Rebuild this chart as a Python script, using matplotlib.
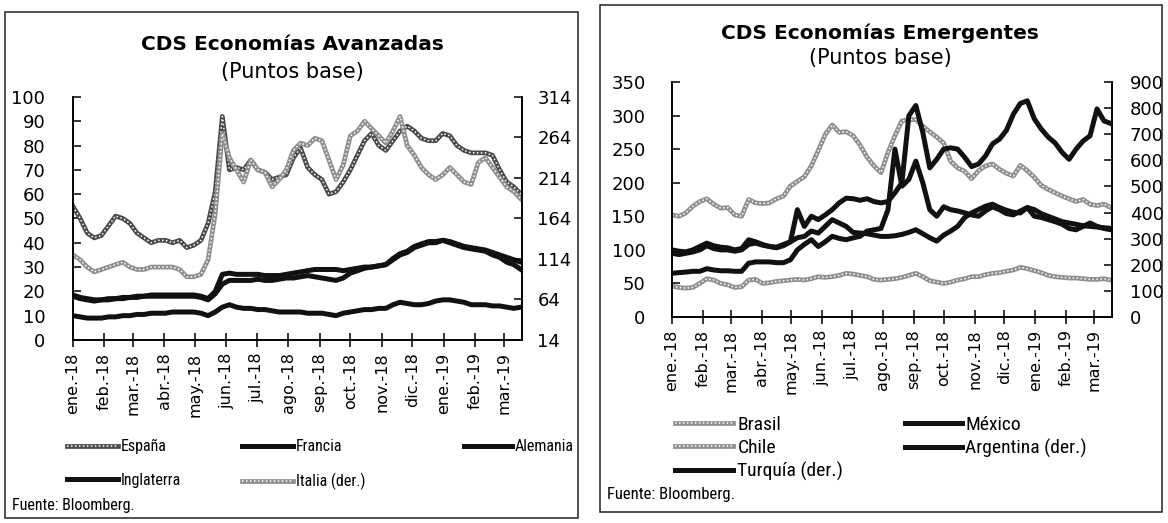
import numpy as np
import pandas as pd
import matplotlib
matplotlib.use("Agg")
import matplotlib.pyplot as plt
from matplotlib.legend_handler import HandlerTuple
from matplotlib.patches import Rectangle

plt.rcParams['font.family'] = ['DejaVu Sans']

# observaciones semanales (lunes)
fechas = pd.date_range('2018-01-01', '2019-03-18', freq='7D')
fin = pd.Timestamp('2019-03-19')

meses = pd.date_range('2018-01-01', '2019-03-01', freq='MS')
meses_lbl = ['ene.-18', 'feb.-18', 'mar.-18', 'abr.-18', 'may.-18', 'jun.-18',
             'jul.-18', 'ago.-18', 'sep.-18', 'oct.-18', 'nov.-18', 'dic.-18',
             'ene.-19', 'feb.-19', 'mar.-19']

# --- economias avanzadas (pb) ---
espana = [55, 50, 44, 42, 43, 47, 51, 50, 48, 44,
          42, 40, 41, 41, 40, 41, 38, 39, 41, 48,
          61, 92, 70, 71, 70, 74, 70, 69, 66, 67,
          68, 75, 79, 71, 68, 66, 60, 61, 65, 70,
          76, 82, 85, 80, 78, 82, 86, 88, 86, 83,
          82, 82, 85, 84, 80, 78, 77, 77, 77, 76,
          70, 65, 63, 60]
francia = [18.5, 17.5, 17, 16.5, 16.5, 17, 17, 17.5, 17.5, 18,
           18, 18.5, 18.5, 18.5, 18.5, 18.5, 18.5, 18.5, 18, 17,
           20, 27, 27.5, 27, 27, 27, 27, 26.5, 26.5, 26.5,
           27, 27.5, 28, 28.5, 29, 29, 29, 29, 28.5, 29,
           29.5, 30, 30, 30.5, 31, 33, 35, 36, 38, 39,
           40, 40, 41, 40, 39, 38, 37.5, 37, 36.5, 35,
           34, 32, 31, 29]
alemania = [10, 9.5, 9, 9, 9, 9.5, 9.5, 10, 10, 10.5,
            10.5, 11, 11, 11, 11.5, 11.5, 11.5, 11.5, 11, 10,
            11.5, 13.5, 14.5, 13.5, 13, 13, 12.5, 12.5, 12, 11.5,
            11.5, 11.5, 11.5, 11, 11, 11, 10.5, 10, 11, 11.5,
            12, 12.5, 12.5, 13, 13, 14.5, 15.5, 15, 14.5, 14.5,
            15, 16, 16.5, 16.5, 16, 15.5, 14.5, 14.5, 14.5, 14,
            14, 13.5, 13, 13.5]
inglaterra = [18, 17, 16.5, 16, 16.5, 16.5, 17, 17, 17.5, 17.5,
              18, 18, 18, 18, 18, 18, 18, 18, 17.5, 16.5,
              19, 23, 24.5, 24.5, 24.5, 24.5, 25, 24.5, 24.5, 25,
              25.5, 25.5, 26, 26.5, 26, 25.5, 25, 24.5, 25.5, 27.5,
              28.5, 29.5, 30, 30.5, 31, 33.5, 35.5, 36.5, 38.5, 39.5,
              40.5, 40.5, 41, 40.5, 39.5, 38.5, 38, 37.5, 37, 36,
              35, 34, 33, 32]
italia = [119, 113, 104, 98, 101, 104, 107, 110, 104, 101,
          101, 104, 104, 104, 104, 101, 92, 92, 95, 113,
          170, 269, 239, 224, 209, 236, 224, 221, 203, 212,
          224, 248, 257, 254, 263, 260, 236, 212, 230, 266,
          272, 284, 275, 266, 257, 272, 290, 254, 242, 227,
          218, 212, 218, 227, 218, 209, 206, 233, 239, 227,
          215, 203, 197, 188]

# --- economias emergentes (pb) ---
brasil = [152, 150, 155, 165, 172, 176, 168, 162, 163, 152,
          150, 175, 170, 169, 170, 176, 180, 195, 202, 209,
          225, 248, 272, 286, 275, 276, 270, 256, 238, 225,
          215, 245, 270, 292, 294, 294, 284, 276, 268, 259,
          232, 222, 217, 206, 218, 225, 228, 220, 214, 210,
          226, 218, 208, 196, 190, 185, 180, 176, 172, 175,
          168, 166, 168, 163]
chile = [46, 44, 43, 44, 50, 57, 55, 50, 48, 44,
         45, 55, 56, 50, 51, 53, 54, 55, 56, 55,
         57, 60, 59, 60, 62, 65, 64, 62, 60, 56,
         55, 56, 57, 59, 62, 65, 60, 54, 52, 50,
         52, 55, 57, 60, 60, 63, 65, 66, 68, 70,
         74, 72, 69, 66, 62, 60, 59, 58, 58, 57,
         56, 56, 57, 55]
mexico = [100, 98, 97, 100, 105, 110, 106, 104, 103, 100,
          102, 115, 112, 108, 105, 104, 108, 112, 118, 120,
          128, 125, 135, 145, 140, 135, 126, 125, 124, 122,
          120, 120, 121, 123, 126, 130, 124, 118, 113, 122,
          128, 135, 148, 155, 160, 165, 168, 163, 159, 156,
          155, 163, 160, 154, 150, 146, 142, 140, 138, 136,
          135, 134, 133, 132]
argentina = [244, 239, 244, 249, 257, 273, 262, 257, 257, 252,
             257, 278, 283, 275, 270, 265, 273, 288, 411, 347,
             386, 373, 391, 411, 437, 455, 453, 447, 453, 442,
             437, 442, 476, 514, 771, 810, 707, 571, 604, 643,
             648, 643, 612, 576, 586, 617, 663, 681, 715, 777,
             818, 828, 759, 720, 689, 666, 630, 604, 643, 674,
             694, 797, 751, 741]
turquia = [167, 170, 172, 175, 175, 185, 180, 177, 177, 175,
           175, 206, 211, 211, 211, 208, 208, 219, 257, 278,
           296, 270, 288, 309, 301, 296, 303, 309, 329, 334,
           339, 411, 643, 501, 527, 597, 514, 411, 386, 422,
           411, 406, 399, 391, 386, 406, 422, 411, 396, 391,
           406, 419, 386, 381, 373, 365, 355, 339, 334, 347,
           360, 347, 339, 334]

NEGRO = '#111111'
GRIS = '#8f8f8f'
GRIS_OSC = '#4a4a4a'
ANGOSTA = ['Roboto Condensed', 'Roboto', 'DejaVu Sans']


def linea_gris(ax, x, y, color):
    base, = ax.plot(x, y, color=color, lw=3.4, solid_joinstyle='round')
    trama, = ax.plot(x, y, color='white', lw=1.1, linestyle=(0, (1, 1.6)))
    return (base, trama)


def linea_negra(ax, x, y):
    ln, = ax.plot(x, y, color=NEGRO, lw=3.6, solid_joinstyle='round')
    return ln


def formato(ax, ax2, yl, yr, yt, yrt, pad_izq, pad_der):
    ax.set_xlim(fechas[0], fin)
    ax.set_ylim(*yl)
    ax.set_yticks(yt)
    ax2.set_ylim(*yr)
    ax2.set_yticks(yrt)
    ax.set_xticks(meses)
    ax.set_xticklabels(meses_lbl, rotation=90, fontsize=11.5)
    ax.tick_params(axis='x', direction='inout', length=10, width=1.1, pad=4)
    ax.tick_params(axis='y', direction='in', length=6, width=1.1,
                   labelsize=13, pad=pad_izq)
    ax2.tick_params(axis='y', direction='in', length=6, width=1.1,
                    labelsize=13, pad=pad_der)
    for a in (ax, ax2):
        a.spines['top'].set_visible(False)
        for s in ('left', 'right', 'bottom'):
            a.spines[s].set_linewidth(1.2)


fig = plt.figure(figsize=(11.68, 5.23), dpi=100)

# marcos
fig.patches.append(Rectangle((0.0043, 0.0096), 0.4906, 0.9675, transform=fig.transFigure,
                             fill=False, lw=1.1, ec='#222222'))
fig.patches.append(Rectangle((0.5137, 0.021), 0.481, 0.969, transform=fig.transFigure,
                             fill=False, lw=1.1, ec='#222222'))

# ---------------- panel izquierdo ----------------
ax = fig.add_axes([0.0625, 0.35, 0.3844, 0.4646])
ax2 = ax.twinx()
h_esp = linea_gris(ax, fechas, espana, GRIS_OSC)
h_ing = linea_negra(ax, fechas, inglaterra)
h_fra = linea_negra(ax, fechas, francia)
h_ale = linea_negra(ax, fechas, alemania)
h_ita = linea_gris(ax2, fechas, italia, GRIS)
formato(ax, ax2, (0, 100), (14, 314), np.arange(0, 101, 10), np.arange(14, 315, 50), 20, 11)

fig.text(0.25, 0.914, 'CDS Economías Avanzadas', ha='center', va='center',
         fontsize=14.5, fontweight='bold')
fig.text(0.25, 0.862, '(Puntos base)', ha='center', va='center', fontsize=15)

leg_kw = dict(frameon=False, loc='upper left', handletextpad=0.2, borderpad=0,
              borderaxespad=0, handler_map={tuple: HandlerTuple(ndivide=1, pad=0)})
fig.legend([h_esp, h_ing], ['España', 'Inglaterra'], bbox_to_anchor=(0.057, 0.16),
           labelspacing=1.15, handlelength=3.2, prop=dict(family=ANGOSTA, size=11.5), **leg_kw)
fig.legend([h_fra, h_ita], ['Francia', 'Italia (der.)'], bbox_to_anchor=(0.207, 0.16),
           labelspacing=1.15, handlelength=3.2, prop=dict(family=ANGOSTA, size=11.5), **leg_kw)
fig.legend([h_ale], ['Alemania'], bbox_to_anchor=(0.397, 0.16),
           handlelength=3.0, prop=dict(family=ANGOSTA, size=11.5), **leg_kw)
fig.text(0.0103, 0.034, 'Fuente: Bloomberg.', fontsize=11.5, family=ANGOSTA, va='center')

# ---------------- panel derecho ----------------
bx = fig.add_axes([0.5753, 0.3939, 0.3767, 0.4493])
bx2 = bx.twinx()
h_bra = linea_gris(bx, fechas, brasil, GRIS)
h_chi = linea_gris(bx, fechas, chile, GRIS)
h_mex = linea_negra(bx, fechas, mexico)
h_arg = linea_negra(bx2, fechas, argentina)
h_tur = linea_negra(bx2, fechas, turquia)
formato(bx, bx2, (0, 350), (0, 900), np.arange(0, 351, 50), np.arange(0, 901, 100), 19, 13)

fig.text(0.7534, 0.937, 'CDS Economías Emergentes', ha='center', va='center',
         fontsize=14.5, fontweight='bold')
fig.text(0.7534, 0.889, '(Puntos base)', ha='center', va='center', fontsize=15)

fig.legend([h_bra, h_chi, h_tur], ['Brasil', 'Chile', 'Turquía (der.)'],
           bbox_to_anchor=(0.578, 0.205), labelspacing=0.25, handlelength=3.0,
           prop=dict(family=ANGOSTA, size=14), **leg_kw)
fig.legend([h_mex, h_arg], ['México', 'Argentina (der.)'],
           bbox_to_anchor=(0.775, 0.205), labelspacing=0.25, handlelength=2.9,
           prop=dict(family=ANGOSTA, size=14), **leg_kw)
fig.text(0.52, 0.055, 'Fuente: Bloomberg.', fontsize=12, family=ANGOSTA, va='center')

fig.savefig('out.png', dpi=100)
